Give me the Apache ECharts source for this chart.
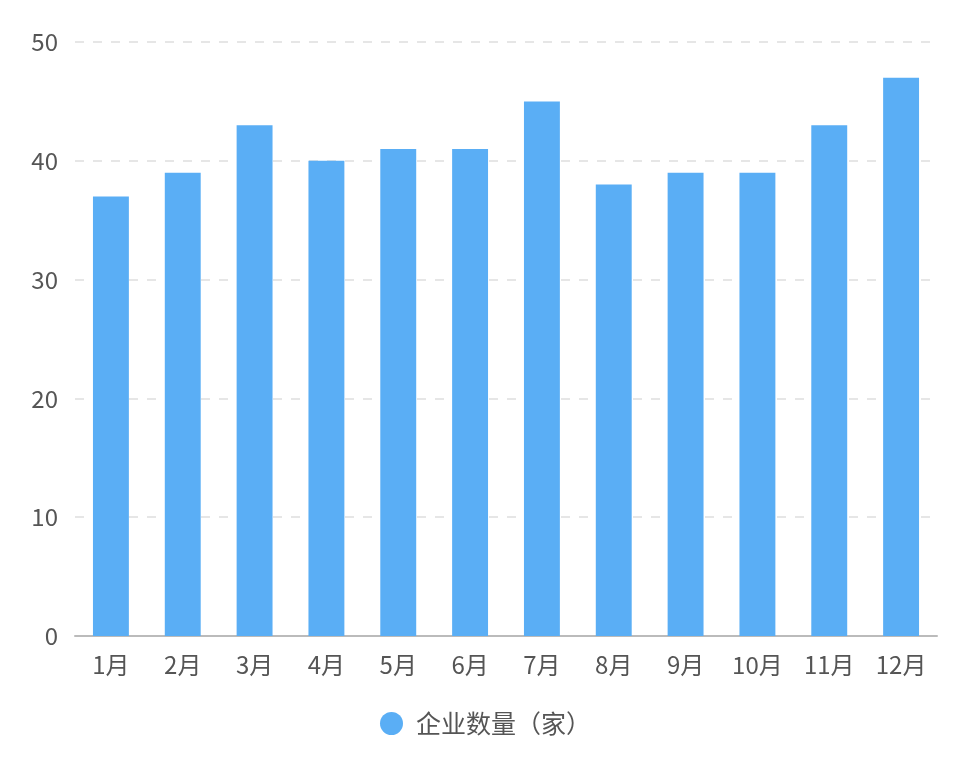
<!DOCTYPE html>
<html><head><meta charset="utf-8">
<script src="https://cdn.jsdelivr.net/npm/echarts@6/dist/echarts.min.js"></script>
<style>html,body{margin:0;padding:0;background:#fff}#c{width:971px;height:757px}</style>
</head><body><div id="c"></div>
<script>
var categories = ['1月','2月','3月','4月','5月','6月','7月','8月','9月','10月','11月','12月'];
var values = [37,39,43,40,41,41,45,38,39,39,43,47];
var seriesName = '企业数量（家）';
var font = '"Noto Sans CJK SC","Noto Sans",sans-serif';
var chart = echarts.init(document.getElementById('c'));
chart.setOption({
  textStyle:{fontFamily:font},
  grid:{left:75,right:34,top:42,bottom:121},
  legend:{top:706,left:'center',icon:'circle',itemWidth:23,itemHeight:23,itemGap:10,
    textStyle:{fontSize:25,color:'#555',fontFamily:font,padding:[0,0,0,8]},data:[seriesName]},
  xAxis:{type:'category',data:categories,
    axisLine:{lineStyle:{color:'#bbb',width:2}},
    axisTick:{alignWithLabel:true,lineStyle:{color:'#bbb',width:2},length:7},
    axisLabel:{fontSize:24,color:'#555',margin:17,fontFamily:font}},
  yAxis:{type:'value',min:0,max:50,interval:10,
    axisLine:{show:false},axisTick:{show:false},
    axisLabel:{fontSize:24,color:'#555',margin:17,fontFamily:font},
    splitLine:{lineStyle:{type:[9,9],color:'#e6e6e6',width:2}}},
  series:[{name:seriesName,type:'bar',data:values,barWidth:'50%',
    itemStyle:{color:'#5aaef5'}}]
});
</script></body></html>
